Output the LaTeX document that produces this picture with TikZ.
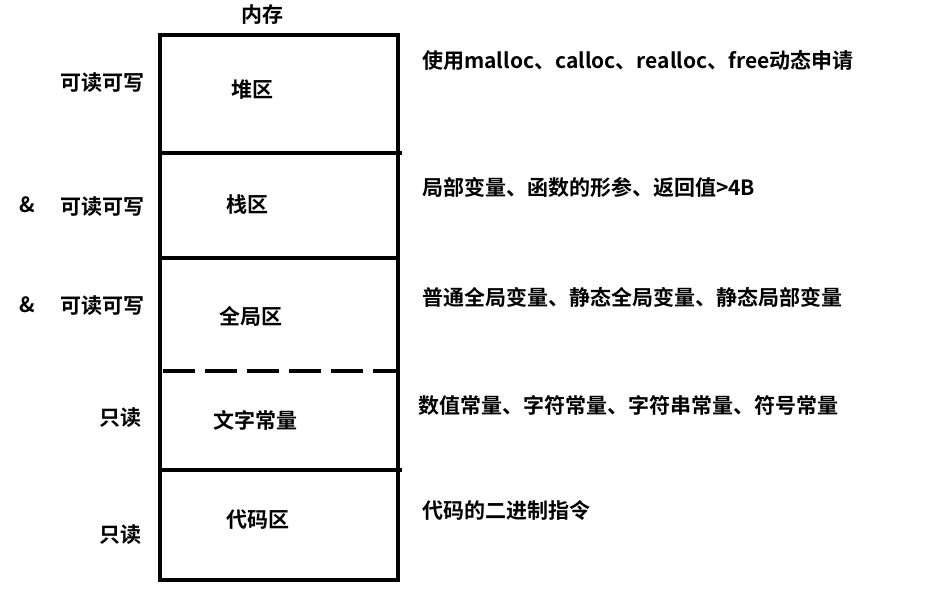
\documentclass[tikz,border=0pt]{standalone}
\usepackage{fontspec}
\newfontfamily\cjk{Noto Sans CJK SC}[BoldFont={Noto Sans CJK SC Bold}]
\usetikzlibrary{positioning}
\tikzset{
	lbl/.style={font=\cjk\bfseries\fontsize{21}{24}\selectfont, inner sep=0pt},
	note/.style={lbl, anchor=west},
	wall/.style={line width=3.4pt},
}
\begin{document}
\begin{tikzpicture}[x=1pt,y=-1pt]
	\useasboundingbox (0,0) rectangle (938,591);
	% memory box
	\draw [wall] (160,35) rectangle (398,580);
	\coordinate (a0) at (160,153);
	\coordinate (a1) at (402,153);
	\coordinate (b0) at (160,258);
	\coordinate (b1) at (398,258);
	\coordinate (c0) at (163,371);
	\coordinate (c1) at (398,371);
	\coordinate (d0) at (160,470);
	\coordinate (d1) at (402,470);
	\draw [wall] (a0) -- (a1);
	\draw [wall] (b0) -- (b1);
	\draw [wall, dash pattern=on 32pt off 10pt] (c0) -- (c1);
	\draw [wall] (d0) -- (d1);
	% segments
	\node [lbl] (mem) at (262,15) {内存};
	\node [lbl] (heap) at (252,90) {堆区};
	\node [lbl] (stack) at (247,205) {栈区};
	\node [lbl] (glob) at (251,316) {全局区};
	\node [lbl] (const) at (255,420) {文字常量};
	\node [lbl] (code) at (258,520) {代码区};
	% access
	\node [lbl] (rw1) at (102,83) {可读可写};
	\node [lbl] (amp1) at (27,205) {\&};
	\node [lbl] (rw2) at (102,207) {可读可写};
	\node [lbl] (amp2) at (27,305) {\&};
	\node [lbl] (rw3) at (102,306) {可读可写};
	\node [lbl] (ro1) at (120,418) {只读};
	\node [lbl] (ro2) at (120,535) {只读};
	% notes
	\node [note] (n1) at (422,60) {使用malloc、calloc、realloc、free动态申请};
	\node [note] (n2) at (422,187) {局部变量、函数的形参、返回值>4B};
	\node [note] (n3) at (422,297) {普通全局变量、静态全局变量、静态局部变量};
	\node [note] (n4) at (418,405) {数值常量、字符常量、字符串常量、符号常量};
	\node [note] (n5) at (422,510) {代码的二进制指令};
\end{tikzpicture}
\end{document}
